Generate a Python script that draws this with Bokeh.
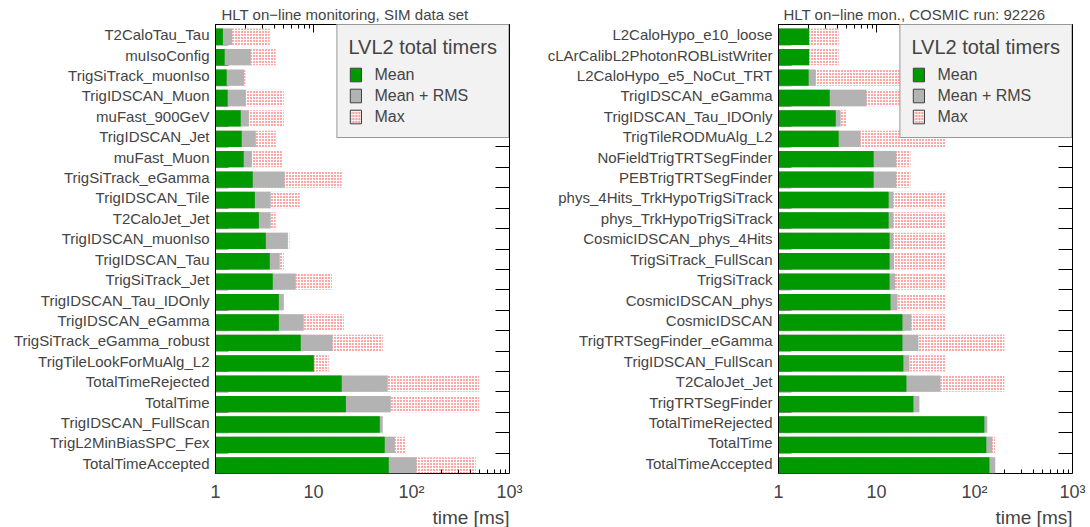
from bokeh.plotting import figure
from bokeh.models import (Range1d, FixedTicker, LinearAxis, LogAxis, Legend, LegendItem,
                          ColumnDataSource, CustomJSTickFormatter, Title)
from bokeh.layouts import row
from bokeh.embed import file_html
from bokeh.resources import INLINE

# ---------------- data (top row first) ----------------
sim_names = ["T2CaloTau_Tau", "muIsoConfig", "TrigSiTrack_muonIso", "TrigIDSCAN_Muon",
             "muFast_900GeV", "TrigIDSCAN_Jet", "muFast_Muon", "TrigSiTrack_eGamma",
             "TrigIDSCAN_Tile", "T2CaloJet_Jet", "TrigIDSCAN_muonIso", "TrigIDSCAN_Tau",
             "TrigSiTrack_Jet", "TrigIDSCAN_Tau_IDOnly", "TrigIDSCAN_eGamma",
             "TrigSiTrack_eGamma_robust", "TrigTileLookForMuAlg_L2", "TotalTimeRejected",
             "TotalTime", "TrigIDSCAN_FullScan", "TrigL2MinBiasSPC_Fex", "TotalTimeAccepted"]
sim_mean = [1.19, 1.24, 1.30, 1.33, 1.81, 1.85, 1.94, 2.40, 2.52, 2.77, 3.26, 3.58,
            3.84, 4.43, 4.43, 7.41, 10.07, 19.4, 21.4, 47.5, 53.3, 58.6]
sim_mean_rms = [1.48, 2.29, 1.96, 2.04, 2.19, 2.58, 2.35, 5.09, 3.66, 3.66, 5.47, 4.53,
                6.59, 4.98, 7.96, 15.7, 10.2, 57.3, 61.5, 50.9, 67.6, 113.0]
sim_max = [3.58, 4.12, 2.02, 4.98, 4.98, 4.12, 4.86, 19.4, 7.25, 4.12, 5.69, 4.98,
           15.4, 4.9, 20.4, 50.9, 14.3, 490.0, 490.0, 48.0, 87.5, 453.0]

cos_names = ["L2CaloHypo_e10_loose", "cLArCalibL2PhotonROBListWriter", "L2CaloHypo_e5_NoCut_TRT",
             "TrigIDSCAN_eGamma", "TrigIDSCAN_Tau_IDOnly", "TrigTileRODMuAlg_L2",
             "NoFieldTrigTRTSegFinder", "PEBTrigTRTSegFinder", "phys_4Hits_TrkHypoTrigSiTrack",
             "phys_TrkHypoTrigSiTrack", "CosmicIDSCAN_phys_4Hits", "TrigSiTrack_FullScan",
             "TrigSiTrack", "CosmicIDSCAN_phys", "CosmicIDSCAN", "TrigTRTSegFinder_eGamma",
             "TrigIDSCAN_FullScan", "T2CaloJet_Jet", "TrigTRTSegFinder", "TotalTimeRejected",
             "TotalTime", "TotalTimeAccepted"]
cos_mean = [2.05, 2.05, 2.03, 3.33, 3.84, 4.11, 9.35, 9.35, 13.3, 13.3, 13.6, 13.6,
            13.6, 13.9, 18.4, 18.4, 18.8, 20.2, 23.8, 126.0, 132.0, 142.0]
cos_mean_rms = [2.06, 2.06, 2.40, 7.93, 4.31, 6.88, 16.0, 16.0, 14.9, 14.9, 14.9, 15.1,
                15.5, 16.4, 22.7, 26.8, 21.7, 44.9, 27.4, 135.0, 152.0, 163.0]
cos_max = [4.11, 4.11, 200.0, 50.0, 4.96, 50.6, 22.2, 22.2, 50.6, 50.6, 50.6, 50.6,
           50.6, 50.6, 50.6, 202.0, 50.6, 202.0, 26.0, 130.0, 162.0, 160.0]

x_major = [1, 10, 100, 1000]
x_labels = ["1", "10", "10\u00b2", "10\u00b3"]

FONT = "Liberation Sans"
GREEN = "#009900"
GRAY = "#b3b3b3"
RED = "#ff2020"
EDGE = "#404040"


def blank_axis_style(ax):
    ax.formatter = CustomJSTickFormatter(code="return ''")
    ax.major_label_text_font_size = "1px"
    ax.major_label_standoff = 0
    ax.axis_line_color = None


def panel(names, mean, mrms, mx, title, width, bl, br, title_offset):
    n = len(names)
    pos = [n - 1 - i for i in range(n)]
    src = ColumnDataSource(dict(y=[v + 0.4 for v in pos], mean=mean, mrms=mrms, mx=mx,
                                left=[1.0] * n))
    p = figure(width=width, height=527, x_axis_type="log", x_range=Range1d(1, 1000),
               y_range=Range1d(0, n), output_backend="svg", toolbar_location=None,
               min_border_left=bl, min_border_right=br, min_border_top=24, min_border_bottom=53)
    p.grid.visible = False
    p.outline_line_color = "black"
    p.outline_line_width = 1
    p.background_fill_color = "white"
    p.border_fill_color = "white"

    # title
    p.title.text = title
    p.title.text_font = FONT
    p.title.text_font_size = "15px"
    p.title.text_font_style = "normal"
    p.title.align = "left"
    p.title.offset = title_offset
    p.title.standoff = 3

    # x ticks: tick-only axis drawn under the bars
    minors = [m * 10 ** k for k in range(3) for m in range(2, 10)]
    xt = FixedTicker(ticks=x_major, minor_ticks=minors)
    xa = p.xaxis[0]
    xa.ticker = xt
    xa.major_tick_in = 8
    xa.major_tick_out = 0
    xa.minor_tick_in = 4
    xa.minor_tick_out = 0
    blank_axis_style(xa)
    xa.level = "underlay"

    # x labels: separate axis without ticks
    xl = LogAxis(ticker=FixedTicker(ticks=x_major, minor_ticks=[]),
                 major_label_overrides={t: s for t, s in zip(x_major, x_labels)},
                 major_label_text_font=FONT, major_label_text_font_size="18px",
                 major_label_standoff=8, major_tick_line_color=None,
                 minor_tick_line_color=None, major_tick_out=0, major_tick_in=0,
                 axis_line_color=None)
    p.add_layout(xl, "below")
    p.add_layout(Title(text="time [ms]", align="right", text_font=FONT,
                       text_font_size="19px", text_font_style="normal", standoff=0,
                       offset=0), "below")

    top = LogAxis(ticker=xt, major_tick_in=8, major_tick_out=0, minor_tick_in=4,
                  minor_tick_out=0)
    blank_axis_style(top)
    p.add_layout(top, "above")

    # left labels
    ya = p.yaxis[0]
    centers = [v + 0.5 for v in pos]
    ya.ticker = FixedTicker(ticks=centers, minor_ticks=[])
    ya.major_label_overrides = {c: nm for c, nm in zip(centers, names)}
    ya.major_label_text_font = FONT
    ya.major_label_text_font_size = "15px"
    ya.major_label_standoff = 6
    ya.major_tick_out = 0
    ya.major_tick_in = 0
    ya.major_tick_line_color = None
    ya.minor_tick_line_color = None
    ya.axis_line_color = "black"

    right = LinearAxis(ticker=FixedTicker(ticks=list(range(1, n)), minor_ticks=[]),
                       major_tick_in=14, major_tick_out=0)
    blank_axis_style(right)
    p.add_layout(right, "right")

    # short row-boundary ticks on the left (under the bars)
    p.segment(x0=[1.0] * (n - 1), x1=[10 ** (13 / 98)] * (n - 1),
              y0=list(range(1, n)), y1=list(range(1, n)), line_color="#606060", line_width=1)

    # bars
    p.hbar(y="y", left="left", right="mx", height=0.8, source=src, fill_color=None,
           line_color=None, hatch_pattern="dot", hatch_color=RED, hatch_scale=3,
           hatch_weight=1)
    p.hbar(y="y", left="left", right="mrms", height=0.8, source=src, fill_color=GRAY,
           line_color=None)
    p.hbar(y="y", left="left", right="mean", height=0.8, source=src, fill_color=GREEN,
           line_color=None)

    # legend glyphs (zero-size bars, drawn only in the legend)
    lsrc = ColumnDataSource(dict(y=[0.0], left=[1.0], right=[1.0]))
    g1 = p.hbar(y="y", left="left", right="right", height=0.0, source=lsrc,
                fill_color=GREEN, line_color=EDGE)
    g2 = p.hbar(y="y", left="left", right="right", height=0.0, source=lsrc,
                fill_color=GRAY, line_color=EDGE)
    g3 = p.hbar(y="y", left="left", right="right", height=0.0, source=lsrc,
                fill_color=None, line_color=EDGE,
                hatch_pattern="dot", hatch_color=RED, hatch_scale=3, hatch_weight=1)
    leg = Legend(items=[LegendItem(label="Mean", renderers=[g1]),
                        LegendItem(label="Mean + RMS", renderers=[g2]),
                        LegendItem(label="Max", renderers=[g3])],
                 location="top_right", margin=0, padding=11, spacing=2,
                 glyph_width=14, glyph_height=17, label_standoff=12, label_height=19,
                 title="LVL2 total timers", title_text_font=FONT, title_text_font_size="20px",
                 title_text_font_style="normal", title_standoff=6,
                 label_text_font=FONT, label_text_font_size="16px",
                 border_line_color=EDGE, border_line_width=1,
                 background_fill_color="#f2f2f2", background_fill_alpha=1)
    p.add_layout(leg)
    return p


p1 = panel(sim_names, sim_mean, sim_mean_rms, sim_max,
           "HLT on\u2212line monitoring, SIM data set", 537, 215, 28, 6)
p2 = panel(cos_names, cos_mean, cos_mean_rms, cos_max,
           "HLT on\u2212line mon., COSMIC run: 92226", 553, 241, 18, 5)

layout = row(p1, p2)
open("out.html", "w").write(file_html(layout, INLINE))
